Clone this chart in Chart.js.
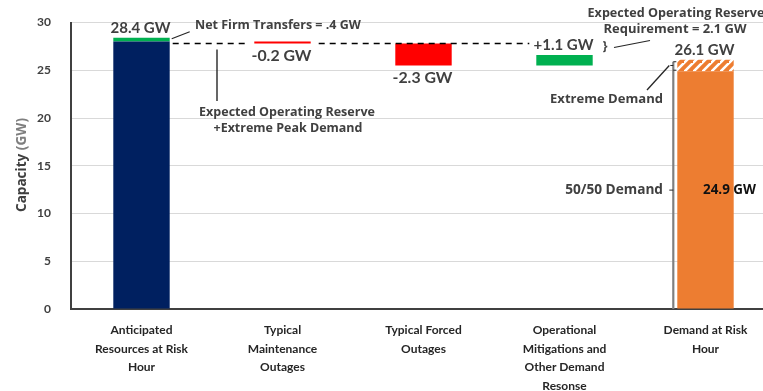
<!DOCTYPE html>
<html>
<head>
<meta charset="utf-8">
<title>Capacity at Risk Hour</title>
<script src="https://cdn.jsdelivr.net/npm/chart.js@4.4.1/dist/chart.umd.min.js"></script>
<style>
  html, body { margin: 0; padding: 0; background: #fff; overflow: hidden; }
  #wrap { width: 763px; height: 391px; overflow: hidden; }
  canvas { display: block; }
</style>
</head>
<body>
<div id="wrap"><canvas id="c" width="776" height="391"></canvas></div>
<script>
// Categories along the x axis
const categories = [
  ['Anticipated', 'Resources at Risk', 'Hour'],
  ['Typical', 'Maintenance', 'Outages'],
  ['Typical Forced', 'Outages'],
  ['Operational', 'Mitigations and', 'Other Demand', 'Resonse'],
  ['Demand at Risk', 'Hour']
];

// Solid bars from zero (resources without transfers, 50/50 demand)
const baseValues = [28.0, null, null, null, 24.9];
// Floating step segments: start and end of each change
const stepFrom = [28.0, 28.0, 27.8, 25.5, 24.9];
const stepTo = [28.4, 27.8, 25.5, 26.6, 26.1];
const stepLabels = ['28.4 GW', '-0.2 GW', '-2.3 GW', '+1.1 GW', '26.1 GW'];
const yTicks = [0, 5, 10, 15, 20, 25, 30];

const NAVY = '#002060', GREEN = '#00B050', RED = '#FF0000', ORANGE = '#ED7D31';
const TEXT = '#404040';
const FONT = 'Lato, "Open Sans", sans-serif';
const NOTE_FONT = '"Open Sans", Lato, sans-serif';

// Orange with white diagonal stripes for the extreme-demand slice
function hatchPattern() {
  const s = 9;
  const p = document.createElement('canvas');
  p.width = s; p.height = s;
  const g = p.getContext('2d');
  g.fillStyle = ORANGE;
  g.fillRect(0, 0, s, s);
  g.strokeStyle = '#ffffff';
  g.lineWidth = 2.6;
  g.beginPath();
  g.moveTo(-2, s + 2); g.lineTo(s + 2, -2);
  g.moveTo(-2 - s, s + 2); g.lineTo(2, -2);
  g.moveTo(s - 2, 2 * s + 2); g.lineTo(2 * s + 2, s - 2);
  g.stroke();
  return document.getElementById('c').getContext('2d').createPattern(p, 'repeat');
}

const baseColors = [NAVY, null, null, null, ORANGE];
const stepColors = [GREEN, RED, RED, GREEN, hatchPattern()];

// Draw a bold label scaled so that it spans the given width
function text(ctx, str, x, y, opts) {
  ctx.save();
  const fam = opts.family || NOTE_FONT;
  ctx.font = 'bold 10px ' + fam;
  const size = opts.width ? 10 * opts.width / ctx.measureText(str).width : opts.size;
  ctx.font = 'bold ' + size.toFixed(2) + 'px ' + fam;
  ctx.fillStyle = opts.color || TEXT;
  ctx.textAlign = opts.align || 'center';
  ctx.textBaseline = 'middle';
  ctx.fillText(str, x, y);
  ctx.restore();
}

function line(ctx, pts, color, width, dash) {
  ctx.save();
  ctx.strokeStyle = color;
  ctx.lineWidth = width;
  ctx.setLineDash(dash || []);
  ctx.beginPath();
  ctx.moveTo(pts[0][0], pts[0][1]);
  for (let i = 1; i < pts.length; i++) ctx.lineTo(pts[i][0], pts[i][1]);
  ctx.stroke();
  ctx.restore();
}

// Value labels, reference line, leaders and callouts
const callouts = {
  id: 'callouts',
  afterDatasetsDraw(chart) {
    const ctx = chart.ctx;
    const y = chart.scales.y;
    const bars = chart.getDatasetMeta(1).data;
    const half = i => bars[i].width / 2;
    const cx = i => bars[i].x;

    // step value labels: above rises, below drops
    stepLabels.forEach((lab, i) => {
      const up = stepTo[i] >= stepFrom[i];
      const top = y.getPixelForValue(Math.max(stepFrom[i], stepTo[i]));
      const bot = y.getPixelForValue(Math.min(stepFrom[i], stepTo[i]));
      const py = up ? top - 10 : bot + 12;
      text(ctx, lab, cx(i) - 1, py, { width: 60, family: FONT });
    });

    // dashed level after maintenance outages
    const lvl = y.getPixelForValue(stepTo[1]);
    const dash = [6, 5];
    line(ctx, [[cx(0) + half(0) + 3, lvl], [cx(1) - half(1) - 8, lvl]], '#000', 1.4, dash);
    line(ctx, [[cx(1) + half(1) + 8, lvl], [cx(3) - half(3) - 7, lvl]], '#000', 1.4, dash);

    // net firm transfers callout
    const topRes = y.getPixelForValue(stepTo[0]);
    line(ctx, [[cx(0) + half(0) + 2, topRes + 1], [cx(0) + half(0) + 20, topRes - 6]], '#262626', 1.2);
    text(ctx, 'Net Firm Transfers = .4 GW', 195, 25, { width: 166, align: 'left' });

    // expected operating reserve + extreme peak demand
    line(ctx, [[217, lvl + 6], [217, 101]], '#262626', 1.4);
    text(ctx, 'Expected Operating Reserve', 287, 112, { width: 176 });
    text(ctx, '+Extreme Peak Demand', 288, 128, { width: 149 });

    // reserve requirement callout
    text(ctx, 'Expected Operating Reserve', 676, 13, { width: 177 });
    text(ctx, 'Requirement = 2.1 GW', 675, 29, { width: 143 });
    text(ctx, '}', 605, 47, { size: 12 });
    line(ctx, [[614, 47.5], [650, 40.5]], '#262626', 1.2);

    // demand bracket next to the demand bar
    const gx = cx(4) - half(4) - 4;
    const yExt = y.getPixelForValue(stepTo[4]);
    const yBase = y.getPixelForValue(baseValues[4]);
    const y0 = y.getPixelForValue(0);
    line(ctx, [[gx, y0], [gx, yExt + 2]], '#7f7f7f', 2.2);
    line(ctx, [[gx, yExt + 2], [gx + 3, yExt + 2]], '#262626', 1);
    line(ctx, [[gx, yBase - 1], [gx + 3, yBase - 1]], '#262626', 1);
    line(ctx, [[gx - 3, (yExt + yBase) / 2], [gx, (yExt + yBase) / 2]], '#262626', 1);
    line(ctx, [[647, 90], [gx - 4, (yExt + yBase) / 2]], '#262626', 1.3);
    text(ctx, 'Extreme Demand', 663, 99, { width: 113, align: 'right' });

    const yMid = y.getPixelForValue(baseValues[4] / 2);
    line(ctx, [[gx - 4, yMid], [gx, yMid]], '#262626', 1);
    text(ctx, '50/50 Demand', 663, yMid, { width: 98, align: 'right' });
    text(ctx, '24.9 GW', 729.5, yMid, { width: 53, color: '#111' });

    // y axis title
    ctx.save();
    ctx.translate(22, 165);
    ctx.rotate(-Math.PI / 2);
    ctx.font = 'bold 10px ' + NOTE_FONT;
    const a = 'Capacity ', b = '(GW)';
    const scale = 94 / ctx.measureText(a + b).width;
    ctx.font = 'bold ' + (10 * scale).toFixed(2) + 'px ' + NOTE_FONT;
    ctx.textBaseline = 'middle';
    const wa = ctx.measureText(a).width, wb = ctx.measureText(b).width;
    ctx.textAlign = 'left';
    ctx.fillStyle = TEXT;
    ctx.fillText(a, -(wa + wb) / 2, 0);
    ctx.fillStyle = '#7f7f7f';
    ctx.fillText(b, -(wa + wb) / 2 + wa, 0);
    ctx.restore();
  }
};

new Chart(document.getElementById('c'), {
  type: 'bar',
  data: {
    labels: categories,
    datasets: [
      {
        label: 'Base',
        data: baseValues.map(v => (v === null ? null : [0, v])),
        backgroundColor: baseColors,
        grouped: false,
        barPercentage: 0.4,
        categoryPercentage: 1
      },
      {
        label: 'Change',
        data: stepFrom.map((f, i) => [f, stepTo[i]]),
        backgroundColor: stepColors,
        grouped: false,
        barPercentage: 0.4,
        categoryPercentage: 1
      }
    ]
  },
  options: {
    responsive: false,
    animation: false,
    layout: { padding: { top: 22.5, left: 0, right: 0, bottom: 0 } },
    plugins: { legend: { display: false }, tooltip: { enabled: false } },
    scales: {
      x: {
        grid: { display: false, drawTicks: false },
        border: { display: true, color: '#404040', width: 2 },
        ticks: {
          color: '#262626',
          padding: 12,
          maxRotation: 0,
          autoSkip: false,
          font: { family: FONT, size: 12, weight: 'bold', lineHeight: 1.55 }
        },
        afterFit(s) { s.height = 82; }
      },
      y: {
        min: 0,
        max: 30,
        afterBuildTicks(s) { s.ticks = yTicks.map(v => ({ value: v })); },
        grid: { color: '#d9d9d9', lineWidth: 1, drawTicks: true, tickLength: 16, tickColor: 'rgba(0,0,0,0)' },
        border: { display: true, color: '#404040', width: 2 },
        ticks: {
          color: TEXT,
          padding: 4,
          font: { family: FONT, size: 12, weight: 'bold' }
        },
        afterFit(s) { s.width = 71; }
      }
    }
  },
  plugins: [callouts]
});
</script>
</body>
</html>
